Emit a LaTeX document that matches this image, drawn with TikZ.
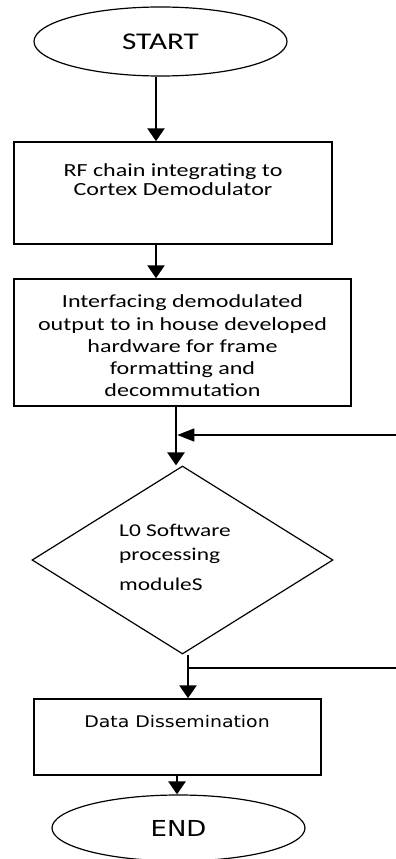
\documentclass[tikz,border=0pt]{standalone}
\usepackage{fontspec}
\setmainfont{Carlito}[FakeStretch=1.3]
\newfontfamily\dejafont{DejaVu Sans}[FakeStretch=1.18]
\usetikzlibrary{shapes.geometric,arrows.meta}
\begin{document}
\begin{tikzpicture}[x=1pt,y=-1pt,
  box/.style={draw,line width=1.5pt,rectangle,inner sep=0pt},
  oval/.style={draw,line width=1.2pt,ellipse,inner sep=0pt},
  txt/.style={inner sep=0pt,align=center},
  arr/.style={line width=2.6pt,-{Triangle[width=17pt,length=13pt]}},
  fbarr/.style={line width=1.3pt,-{Triangle[width=13pt,length=17pt]}},
  fbline/.style={line width=1.3pt}]
\useasboundingbox (0,0) rectangle (396,859);
% shapes
\node[oval,minimum width=253pt,minimum height=69pt,font=\fontsize{24}{28}\selectfont] (start) at (160.5,41.5)
  {START};
\node[box,minimum width=318pt,minimum height=102pt] (b1) at (173,193) {};
\node[txt,anchor=base,font=\fontsize{18.5}{19}\selectfont] (b1t) at (173,195)
  {RF chain integrating to\\Cortex Demodulator};
\node[box,minimum width=337pt,minimum height=127pt] (b2) at (182.5,342.5) {};
\node[txt,font=\fontsize{18.5}{22.2}\selectfont] (b2t) at (182.5,346)
  {Interfacing demodulated\\output to in house developed\\hardware for frame\\formatting and\\decommutation};
\node[draw,line width=1.2pt,diamond,minimum width=301pt,minimum height=188pt,inner sep=0pt] (dia) at (182.5,560) {};
\node[inner sep=0pt,align=left,anchor=north west,font=\fontsize{18}{24}\selectfont] (diat) at (119,524)
  {L0 Software\\processing\\[6pt]moduleS};
\node[box,minimum width=287pt,minimum height=76pt] (b3) at (177.5,737) {};
\node[inner sep=0pt,anchor=base,font=\dejafont\fontsize{16}{19}\selectfont] (b3t) at (177,727)
  {Data Dissemination};
\node[oval,minimum width=253pt,minimum height=66pt,font=\dejafont\fontsize{22}{26}\selectfont] (end) at (178.5,828)
  {END};
% connectors
\draw[arr] ([xshift=-4.5pt]start.south) -- ([xshift=-4.5pt]start.south |- b1.north);
\draw[arr] ([xshift=-17pt]b1.south) -- ([xshift=-17pt]b1.south |- b2.north);
\draw[arr] ([xshift=-6.5pt]b2.south) -- ([xshift=-6.5pt]b2.south |- dia.north);
\coordinate (fbin) at (396,435);
\coordinate (j1) at ([xshift=-6.5pt]b2.south |- fbin);
\draw[fbarr] (fbin) -- ([xshift=1.3pt]j1);
\draw[arr] ([xshift=5.5pt]dia.south) -- ([xshift=5.5pt]dia.south |- b3.north);
\coordinate (fbout) at (396,668);
\coordinate (j2) at ([xshift=5.5pt]dia.south |- fbout);
\draw[fbline] (fbout) -- (j2);
\draw[arr] ([xshift=-0.5pt]b3.south) -- ([xshift=-0.5pt]b3.south |- end.north);
\end{tikzpicture}
\end{document}
